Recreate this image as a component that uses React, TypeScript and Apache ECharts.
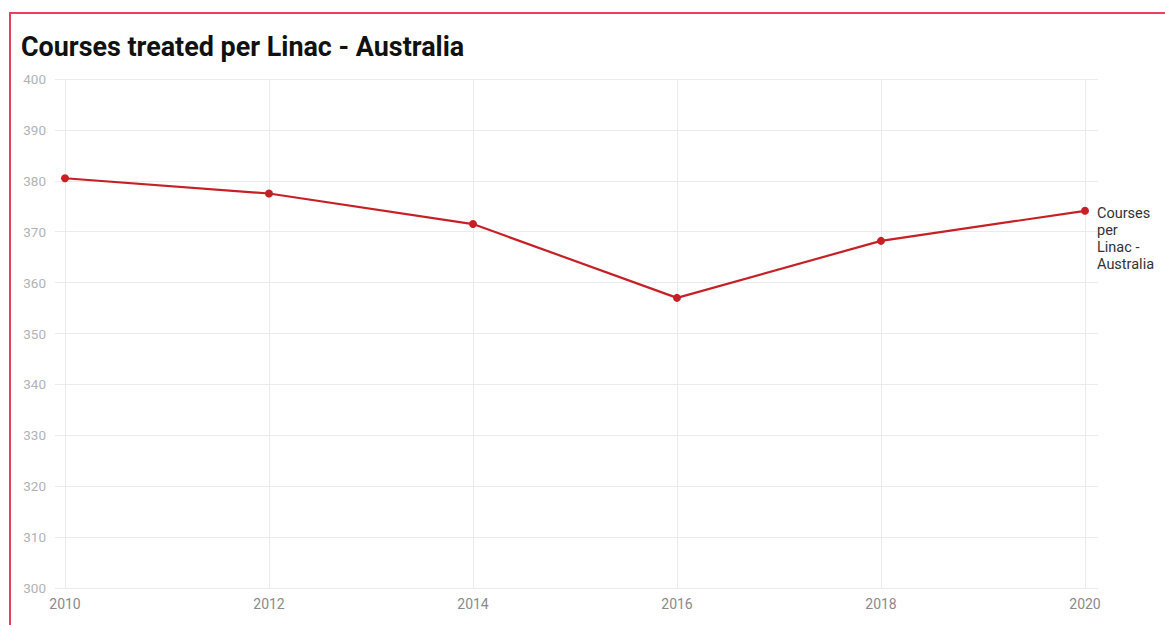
import React, { useEffect, useRef } from "react";
import * as echarts from "echarts";

const titleText = "Courses treated per Linac - Australia";
const seriesName = "Courses per Linac - Australia";
const endLabelText = "Courses\nper\nLinac -\nAustralia";
const years = ["2010", "2012", "2014", "2016", "2018", "2020"];
const values = [380.5, 377.5, 371.5, 357.0, 368.2, 374.1];
const yMin = 300;
const yMax = 400;
const yStep = 10;

export default function App() {
  const ref = useRef<HTMLDivElement>(null);
  useEffect(() => {
    if (!ref.current) return;
    const chart = echarts.init(ref.current, null, { renderer: "svg" });
    const gridColor = "#ebebeb";
    chart.setOption({
      animation: false,
      backgroundColor: "transparent",
      title: {
        text: titleText,
        left: 16,
        top: 28,
        textStyle: {
          fontFamily: "Roboto",
          fontSize: 26.9,
          fontWeight: "bold",
          color: "#111",
        },
      },
      grid: { left: 65, right: 80, top: 79, bottom: 37, containLabel: false },
      xAxis: {
        type: "category",
        data: years,
        boundaryGap: false,
        axisLine: { show: false },
        axisTick: { show: false },
        splitLine: { show: true, lineStyle: { color: gridColor, width: 1 } },
        axisLabel: {
          color: "#8a8a8a",
          fontFamily: "Roboto",
          fontSize: 14,
          margin: 9,
        },
      },
      yAxis: [
        {
          type: "value",
          min: yMin,
          max: yMax,
          interval: yStep,
          axisLine: { show: false },
          axisTick: { show: true, length: 10, lineStyle: { color: gridColor } },
          splitLine: { show: true, lineStyle: { color: gridColor, width: 1 } },
          axisLabel: {
            color: "#b3b3b3",
            fontFamily: "Roboto",
            fontSize: 13.5,
            margin: 19,
          },
        },
        {
          type: "value",
          position: "right",
          min: yMin,
          max: yMax,
          interval: yStep,
          axisLine: { show: false },
          axisTick: { show: true, length: 13, lineStyle: { color: gridColor } },
          splitLine: { show: false },
          axisLabel: { show: false },
        },
      ],
      series: [
        {
          name: seriesName,
          type: "line",
          data: values,
          yAxisIndex: 0,
          symbol: "circle",
          symbolSize: 8,
          itemStyle: { color: "#c62026" },
          lineStyle: { color: "#c62026", width: 2.2 },
          endLabel: {
            show: true,
            formatter: endLabelText,
            fontFamily: "Roboto",
            fontSize: 14.5,
            lineHeight: 17,
            color: "#333",
            align: "left",
            verticalAlign: "top",
            offset: [4, -6],
          },
        },
      ],
    });
    return () => chart.dispose();
  }, []);
  return (
    <>
      <div
        style={{
          position: "fixed",
          left: 0,
          top: 0,
          width: 1165,
          height: 625,
          background: "#fff",
        }}
      />
      <div
        ref={ref}
        style={{ position: "fixed", left: 0, top: 0, width: 1165, height: 625 }}
      />
      <div
        style={{
          position: "fixed",
          left: 9,
          top: 12,
          width: 1156,
          height: 613,
          boxSizing: "border-box",
          borderTop: "2px solid #e8415f",
          borderLeft: "2px solid #e8415f",
          pointerEvents: "none",
        }}
      />
    </>
  );
}
